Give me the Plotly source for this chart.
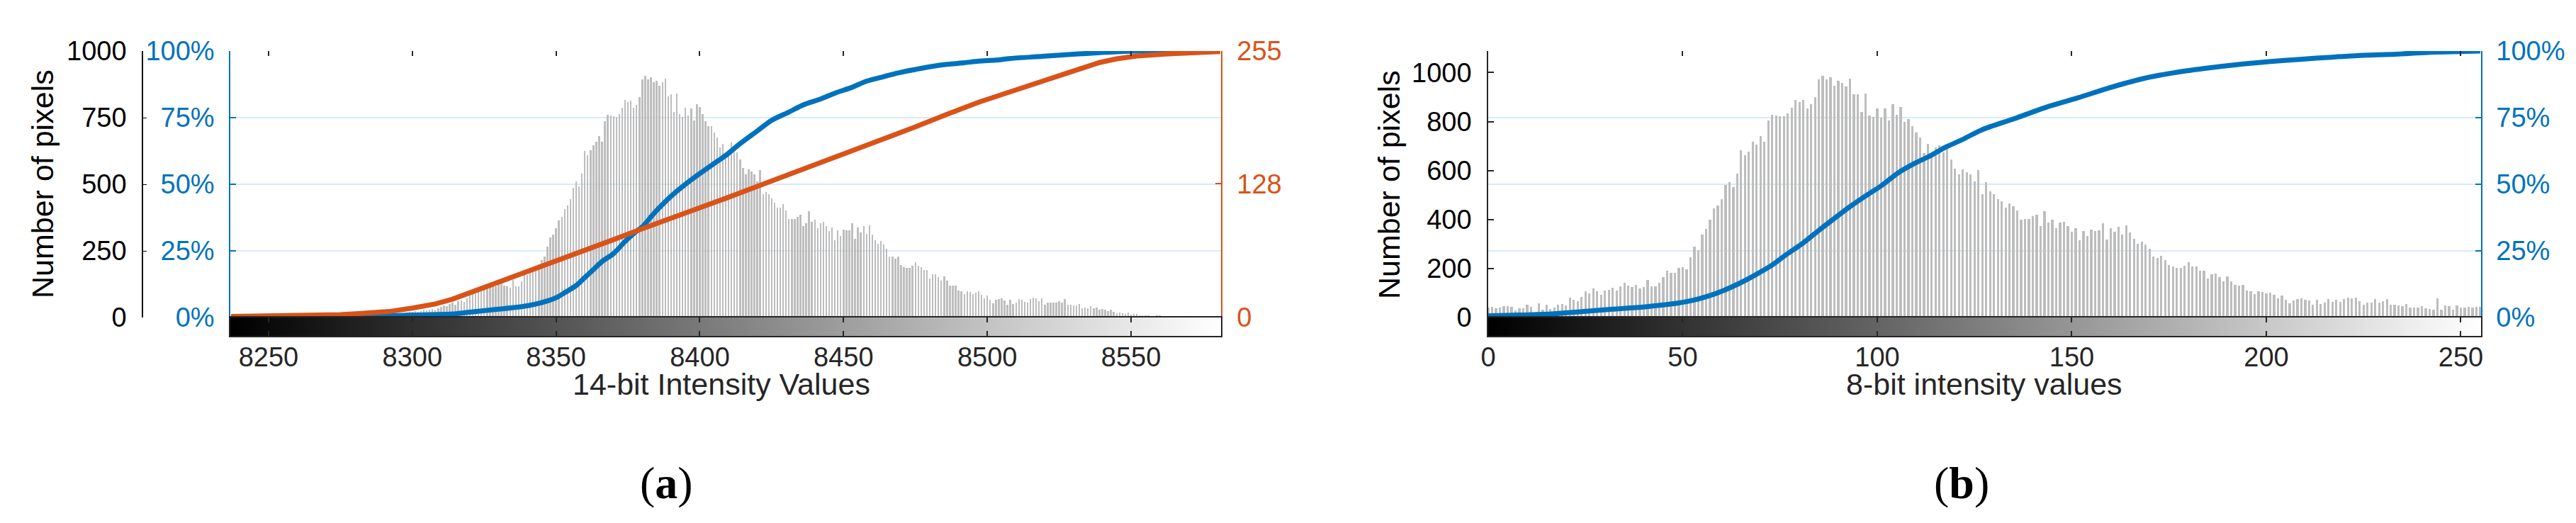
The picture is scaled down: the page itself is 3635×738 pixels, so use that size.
import numpy as np
import plotly.graph_objects as go

# ---- panel (a): 14-bit raw histogram ----
raw_levels = list(range(8280, 8576))
raw_counts = [
    0, 1, 0, 2, 1, 2, 3, 2, 4, 5,
    6, 8, 7, 10, 9, 12, 14, 13, 18, 20,
    22, 25, 20, 24, 28, 26, 30, 32, 28, 35,
    40, 45, 42, 50, 55, 48, 60, 65, 58, 72,
    85, 95, 90, 105, 100, 110, 115, 120, 125, 118,
    125, 130, 120, 118, 112, 140, 118, 118, 135, 168,
    160, 170, 185, 180, 200, 215, 230, 265, 300, 310,
    335, 365, 378, 408, 421, 445, 488, 510, 492, 541,
    625, 609, 627, 647, 660, 681, 660, 738, 760, 758,
    755, 753, 764, 787, 816, 808, 814, 786, 798, 826,
    894, 906, 894, 901, 882, 888, 869, 882, 895, 829,
    838, 771, 840, 762, 753, 786, 758, 784, 740, 800,
    789, 762, 736, 718, 718, 693, 676, 638, 651, 617,
    606, 656, 621, 621, 594, 561, 538, 556, 548, 538,
    510, 553, 463, 472, 463, 446, 430, 413, 412, 426,
    401, 369, 369, 371, 379, 386, 344, 355, 399, 360,
    367, 335, 355, 359, 344, 325, 337, 291, 326, 306,
    330, 326, 328, 354, 294, 339, 319, 342, 313, 346,
    310, 289, 277, 288, 275, 259, 229, 230, 222, 230,
    197, 190, 186, 186, 195, 207, 195, 190, 177, 177,
    146, 162, 163, 151, 137, 154, 137, 121, 119, 121,
    102, 98, 89, 98, 96, 89, 93, 98, 84, 71,
    82, 66, 53, 66, 69, 71, 64, 49, 66, 50,
    57, 69, 66, 59, 57, 69, 75, 73, 62, 73,
    49, 55, 57, 57, 55, 62, 55, 69, 49, 47,
    44, 44, 50, 35, 38, 35, 43, 34, 37, 28,
    33, 28, 24, 28, 20, 16, 18, 15, 12, 18,
    11, 14, 13, 9, 8, 9, 8, 4, 5, 7,
    8, 0, 0, 4, 4, 2, 4, 0, 6, 2,
    0, 2, 4, 3, 3, 5,
]
raw_cdf_x = [8237, 8283, 8300, 8314, 8320, 8330, 8340, 8347, 8350, 8353,
             8357, 8360, 8363, 8366, 8370, 8374, 8377, 8380, 8384, 8390,
             8395, 8400, 8405, 8409, 8414, 8420, 8425, 8431, 8436, 8442,
             8447, 8453, 8458, 8464, 8469, 8475, 8480, 8486, 8492, 8497,
             8503, 8508, 8519, 8530, 8541, 8552, 8581]
raw_cdf_pct = [0, 0.4, 0.9, 1.3, 2.0, 3.1, 4.4, 6.2, 7.4, 9.3,
               12, 15, 18, 21, 24, 28.5, 31.5, 34, 39, 45.5,
               50, 54, 57.8, 60.8, 65.2, 70, 74, 77.1, 79.8, 82,
               84.2, 86.4, 88.7, 90.4, 91.8, 93.1, 94.1, 95, 95.6, 96.2,
               96.6, 97.2, 98, 98.8, 99.5, 100, 100]
tone_x = [8237, 8264, 8275, 8283, 8292, 8300, 8308, 8314, 8320, 8330,
          8341, 8350, 8358, 8369, 8380, 8391, 8400, 8409, 8420, 8431,
          8442, 8453, 8464, 8475, 8486, 8497, 8508, 8519, 8530, 8539,
          8545, 8552, 8563, 8574, 8581]
tone_y = [1, 1.6, 2.7, 4, 5.7, 9, 13, 17.6, 23.7, 33.9,
          44, 53, 61.5, 73.5, 85, 96, 104, 114, 125.5, 136.8,
          147.6, 158.9, 170.7, 182.4, 194.4, 206, 216, 226, 236.5, 244,
          247.5, 250.3, 252.3, 253.8, 254.5]

# ---- panel (b): 8-bit histogram ----
eight_levels = list(range(256))
eight_counts = [
    40, 43, 39, 41, 45, 46, 43, 29, 39, 39,
    53, 43, 17, 58, 32, 53, 36, 40, 53, 56,
    48, 82, 72, 68, 85, 108, 98, 118, 106, 92,
    111, 113, 122, 111, 128, 142, 130, 125, 132, 119,
    125, 154, 127, 127, 142, 164, 191, 183, 183, 203,
    205, 196, 246, 289, 275, 338, 362, 400, 446, 458,
    484, 542, 553, 532, 588, 683, 662, 676, 718, 705,
    741, 718, 804, 827, 825, 823, 822, 833, 856, 889,
    880, 887, 853, 871, 900, 972, 986, 972, 980, 947,
    966, 959, 943, 974, 911, 911, 839, 914, 824, 820,
    855, 815, 853, 805, 870, 827, 858, 798, 810, 781,
    754, 735, 672, 709, 665, 694, 704, 675, 689, 646,
    607, 585, 606, 594, 585, 556, 602, 503, 554, 514,
    503, 484, 474, 448, 466, 453, 437, 399, 403, 403,
    414, 420, 374, 434, 388, 399, 365, 388, 391, 374,
    351, 366, 316, 354, 333, 359, 352, 355, 385, 318,
    366, 349, 370, 338, 376, 347, 320, 301, 311, 299,
    280, 249, 243, 251, 234, 214, 208, 203, 203, 212,
    226, 208, 207, 192, 192, 159, 176, 178, 164, 149,
    167, 149, 132, 130, 132, 111, 106, 96, 106, 103,
    99, 101, 92, 77, 89, 72, 58, 70, 74, 77,
    72, 69, 53, 72, 55, 61, 75, 65, 72, 65,
    75, 82, 79, 82, 68, 53, 61, 61, 75, 61,
    68, 75, 53, 53, 50, 45, 56, 41, 41, 41,
    45, 39, 36, 32, 79, 32, 48, 45, 32, 48,
    41, 41, 43, 41, 43, 43,
]
eight_cdf_x = [0, 7.8, 16, 24, 32, 40.3, 48.4, 52.5, 56.5, 60.6,
               64.7, 68.7, 72.8, 76.8, 80.9, 84.9, 89, 93.1, 97.1, 101.2,
               105.2, 109.3, 113.4, 117.4, 121.5, 127, 135.2, 143.4, 151.5, 159.7,
               167.9, 176, 184.2, 192.4, 200.6, 208.7, 216.9, 225.1, 233.3, 241.5,
               249.6, 255]
eight_cdf_pct = [0.6, 0.9, 1.3, 2.2, 3.1, 4, 5.3, 6.4, 8, 10.2,
                 12.9, 16, 19.5, 23.8, 27.9, 32.6, 37.2, 41.7, 45.7, 49.6,
                 54.1, 57.6, 60.5, 63.8, 66.5, 70.5, 74.6, 78.9, 82.4, 86.2,
                 89.5, 91.8, 93.5, 94.9, 96, 96.9, 97.7, 98.4, 98.8, 99.5,
                 99.8, 100]

raw_ticks = [8250, 8300, 8350, 8400, 8450, 8500, 8550]
eight_ticks = [0, 50, 100, 150, 200, 250]
pct_ticks = [0, 25, 50, 75, 100]
pct_labels = ['0%', '25%', '50%', '75%', '100%']

BLUE = '#0072BD'
ORANGE = '#D95319'
DARK = '#262626'
GRID = '#D9EAF5'
BARS = '#BDBDBD'
FONT = 'Liberation Sans'

W, H = 3635, 738
raw_range = [8236.7, 8581.3]
eight_range = [0, 255.2]

# layout positions in pixels -> paper fractions
a_dom = [317 / W, 1715 / W]
b_dom = [2092 / W, 3493 / W]
main_dom = [(H - 440) / H, (H - 64) / H]
bar_dom = [(H - 466) / H, (H - 440) / H]

fig = go.Figure()

# panel (a)
fig.add_trace(go.Bar(x=raw_levels, y=raw_counts, width=0.6,
                     marker=dict(color=BARS, line_width=0),
                     xaxis='x', yaxis='y'))
fig.add_trace(go.Scatter(x=raw_cdf_x, y=raw_cdf_pct, mode='lines',
                         line=dict(color=BLUE, width=7, shape='spline',
                                   smoothing=0.8),
                         xaxis='x', yaxis='y2'))
fig.add_trace(go.Scatter(x=tone_x, y=tone_y, mode='lines',
                         line=dict(color=ORANGE, width=7),
                         xaxis='x', yaxis='y3'))
grad_a = np.linspace(raw_range[0], raw_range[1], 400)
fig.add_trace(go.Heatmap(x=grad_a, y=[0.5], z=[grad_a], zsmooth='best',
                         colorscale=[[0, '#000000'], [1, '#FFFFFF']],
                         showscale=False, hoverinfo='skip',
                         xaxis='x2', yaxis='y4'))

# panel (b)
fig.add_trace(go.Bar(x=eight_levels, y=eight_counts, width=0.6,
                     marker=dict(color=BARS, line_width=0),
                     xaxis='x3', yaxis='y5'))
fig.add_trace(go.Scatter(x=eight_cdf_x, y=eight_cdf_pct, mode='lines',
                         line=dict(color=BLUE, width=7, shape='spline',
                                   smoothing=0.8),
                         xaxis='x3', yaxis='y6'))
grad_b = np.linspace(eight_range[0], eight_range[1], 400)
fig.add_trace(go.Heatmap(x=grad_b, y=[0.5], z=[grad_b], zsmooth='best',
                         colorscale=[[0, '#000000'], [1, '#FFFFFF']],
                         showscale=False, hoverinfo='skip',
                         xaxis='x4', yaxis='y7'))

tick_font = dict(family=FONT, size=38, color=DARK)
top_ticks = dict(side='top', ticks='inside', ticklen=7, tickwidth=1.5,
                 tickcolor=DARK, showticklabels=False, showline=False,
                 showgrid=False, zeroline=False, automargin=False)
strip_x = dict(ticks='inside', ticklen=7, tickwidth=1.5, tickcolor=DARK,
               showline=True, linecolor=DARK, linewidth=2, mirror='ticks',
               showgrid=False, zeroline=False, automargin=False,
               tickfont=tick_font, ticklabelstandoff=-5)
strip_y = dict(range=[0, 1], showticklabels=False, ticks='', showgrid=False,
               zeroline=False, showline=True, linecolor=DARK, linewidth=2,
               mirror=True, automargin=False)

fig.update_layout(
    width=W, height=H,
    margin=dict(l=0, r=0, t=0, b=0),
    paper_bgcolor='white', plot_bgcolor='white',
    showlegend=False, bargap=0,
    font=dict(family=FONT, color=DARK),
    xaxis=dict(domain=a_dom, range=raw_range, anchor='y', tickvals=raw_ticks,
               **top_ticks),
    yaxis=dict(domain=main_dom, range=[0, 1000], anchor='free',
               position=193 / W, side='left',
               tickvals=[0, 250, 500, 750, 1000], ticks='inside', ticklen=5,
               tickcolor='#000000', showline=True, linecolor='#000000',
               linewidth=1.5, showgrid=False, zeroline=False, automargin=False,
               tickfont=dict(family=FONT, size=38, color='#000000'),
               ticklabelstandoff=14),
    yaxis2=dict(overlaying='y', anchor='x', side='left', range=[0, 100],
                tickvals=pct_ticks, ticktext=pct_labels,
                ticks='inside', ticklen=8, tickwidth=1.5, tickcolor=BLUE,
                showline=True, linecolor=BLUE, linewidth=1.5,
                showgrid=True, gridcolor=GRID, gridwidth=1.5,
                zeroline=False, automargin=False,
                tickfont=dict(family=FONT, size=38, color=BLUE),
                ticklabelstandoff=13),
    yaxis3=dict(overlaying='y', anchor='x', side='right', range=[0, 255],
                tickvals=[0, 128, 255], ticks='inside', ticklen=8,
                tickwidth=1.5, tickcolor=ORANGE, showline=True,
                linecolor=ORANGE, linewidth=1.5, showgrid=False,
                zeroline=False, automargin=False,
                tickfont=dict(family=FONT, size=38, color=ORANGE),
                ticklabelstandoff=13),
    xaxis2=dict(domain=a_dom, range=raw_range, anchor='y4',
                tickvals=raw_ticks, **strip_x),
    yaxis4=dict(domain=bar_dom, anchor='x2', **strip_y),
    xaxis3=dict(domain=b_dom, range=eight_range, anchor='y5',
                tickvals=[50, 100, 150, 200, 250], **top_ticks),
    yaxis5=dict(domain=main_dom, range=[0, 1088], anchor='x3', side='left',
                tickvals=[0, 200, 400, 600, 800, 1000], ticks='inside',
                ticklen=8, tickwidth=1.5, tickcolor=DARK, showline=True,
                linecolor=DARK, linewidth=1.5, showgrid=False,
                zeroline=False, automargin=False,
                tickfont=dict(family=FONT, size=38, color='#000000'),
                ticklabelstandoff=14),
    yaxis6=dict(overlaying='y5', anchor='x3', side='right', range=[0, 100],
                tickvals=pct_ticks, ticktext=pct_labels,
                ticks='inside', ticklen=8, tickwidth=1.5, tickcolor=BLUE,
                showline=True, linecolor=BLUE, linewidth=1.5,
                showgrid=True, gridcolor=GRID, gridwidth=1.5,
                zeroline=False, automargin=False,
                tickfont=dict(family=FONT, size=38, color=BLUE),
                ticklabelstandoff=12),
    yaxis8=dict(overlaying='y5', anchor='x3', side='right', range=[0, 1088],
                tickvals=[200, 400, 600, 800, 1000], ticks='inside',
                ticklen=8, tickwidth=1.5, tickcolor=DARK,
                showticklabels=False, showline=False, showgrid=False,
                zeroline=False, automargin=False),
    xaxis4=dict(domain=b_dom, range=eight_range, anchor='y7',
                tickvals=eight_ticks, **strip_x),
    yaxis7=dict(domain=bar_dom, anchor='x4', **strip_y),
)

# axis titles and sub-figure labels
title_font = dict(family=FONT, size=43, color=DARK)
notes = [
    dict(text='Number of pixels', x=52 / W, y=(H - 252) / H, textangle=-90,
         font=dict(family=FONT, size=43, color='#000000')),
    dict(text='Number of pixels', x=1952 / W, y=(H - 252) / H, textangle=-90,
         font=dict(family=FONT, size=43, color='#000000')),
    dict(text='14-bit Intensity Values', x=1010 / W, y=(H - 534) / H,
         font=title_font),
    dict(text='8-bit intensity values', x=2792 / W, y=(H - 534) / H,
         font=title_font),
    dict(text='(<b>a</b>)', x=933 / W, y=(H - 673) / H,
         font=dict(family='Liberation Serif', size=64, color='#000000')),
    dict(text='(<b>b</b>)', x=2760 / W, y=(H - 673) / H,
         font=dict(family='Liberation Serif', size=64, color='#000000')),
]
for n in notes:
    fig.add_annotation(xref='paper', yref='paper', showarrow=False,
                       xanchor='center', yanchor='middle', **n)

fig.write_html("out.html")
